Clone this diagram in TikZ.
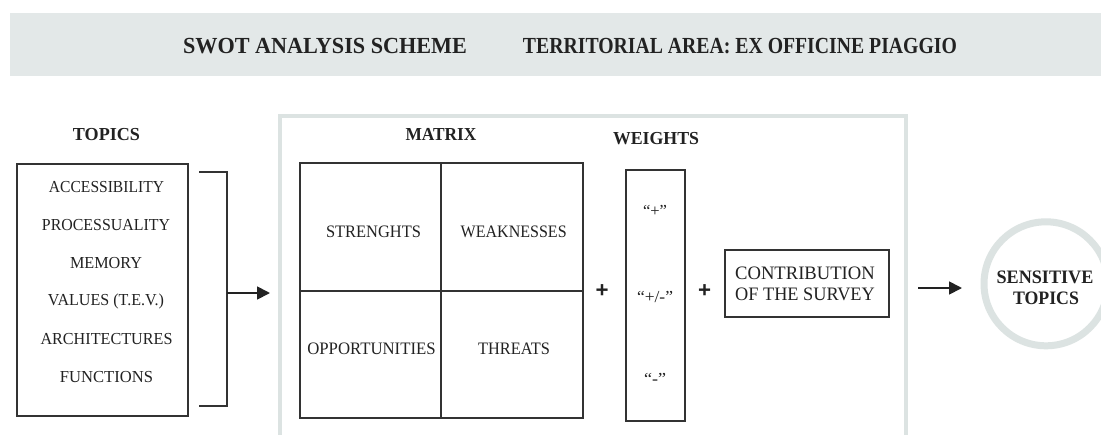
\documentclass[tikz,border=0pt]{standalone}
\usepackage{fontspec}
\setmainfont{Liberation Serif}
\newfontfamily\plusfont{Liberation Sans}
\usepackage{graphicx}
\usetikzlibrary{arrows.meta}
\definecolor{band}{HTML}{E3E8E8}
\definecolor{panelc}{HTML}{DCE3E2}
\definecolor{ink}{HTML}{222222}
\definecolor{linec}{HTML}{333333}
\newcommand\fw[2]{\resizebox{#1pt}{\height}{#2}}
\begin{document}
\begin{tikzpicture}[x=1pt,y=-1pt,
  txt/.style={inner sep=0pt, anchor=base, text=ink},
  ctxt/.style={inner sep=0pt, anchor=center, text=ink},
  tfont/.style={font=\bfseries\fontsize{23}{23}\selectfont},
  headf/.style={font=\bfseries\fontsize{18.3}{18.3}\selectfont},
  itemf/.style={font=\fontsize{16.8}{16.8}\selectfont},
  cellf/.style={font=\fontsize{17.5}{17.5}\selectfont},
  bigf/.style={font=\fontsize{19}{19}\selectfont},
  boxst/.style={draw=linec, line width=1.3pt, inner sep=0pt, fill=none},
  brk/.style={draw=linec, line width=1.8pt},
  arr/.style={draw=ink, line width=1.8pt, -{Triangle[length=13pt,width=13pt]}},
  plusf/.style={font=\plusfont\bfseries\fontsize{22}{22}\selectfont}
]
\useasboundingbox (0,0) rectangle (1101,434);
\clip (0,0) rectangle (1101,434);
\fill[white] (0,0) rectangle (1101,434);

% header band
\fill[band] (10,13) rectangle (1101,76);
\node[txt, tfont] (title1) at (325,53) {\fw{284}{SWOT ANALYSIS SCHEME}};
\node[txt, tfont] (title2) at (740,53) {\fw{434}{TERRITORIAL AREA: EX OFFICINE PIAGGIO}};

% central panel
\draw[panelc, line width=3.2pt] (280,440) -- (280,116) -- (906,116) -- (906,440);

% topics
\node[txt, headf] (topicsl) at (106.5,140.5) {\fw{67}{TOPICS}};
\node[boxst, minimum width=171pt, minimum height=252pt] (topics) at (102.5,290) {};
\node[txt, itemf] (t1) at (106.5,192.5) {\fw{115}{ACCESSIBILITY}};
\node[txt, itemf] (t2) at (106,230.5) {\fw{128}{PROCESSUALITY}};
\node[txt, itemf] (t3) at (106,268.5) {\fw{72}{MEMORY}};
\node[txt, itemf] (t4) at (106,305.5) {\fw{116}{VALUES (T.E.V.)}};
\node[txt, itemf] (t5) at (106.5,344.5) {\fw{132}{ARCHITECTURES}};
\node[txt, itemf] (t6) at (106.5,382.5) {\fw{93}{FUNCTIONS}};

% bracket and arrow
\coordinate (b1) at (199,172);
\coordinate (b2) at (227,172);
\coordinate (b3) at (227,406);
\coordinate (b4) at (199,406);
\coordinate (bm) at (227,293);
\coordinate (a1) at (270,293);
\draw[brk] (b1) -- (b2) -- (b3) -- (b4);
\draw[arr] (bm) -- (a1);

% matrix
\node[txt, headf] (matrixl) at (441,140.7) {\fw{71}{MATRIX}};
\node[boxst, minimum width=283pt, minimum height=255pt] (matrix) at (441.5,290.5) {};
\coordinate (mv1) at (441,163);
\coordinate (mv2) at (441,418);
\coordinate (mh1) at (300,291);
\coordinate (mh2) at (583,291);
\draw[linec, line width=1.3pt] (mv1) -- (mv2);
\draw[linec, line width=1.3pt] (mh1) -- (mh2);
\node[txt, cellf] (s) at (373.5,237.5) {\fw{95}{STRENGHTS}};
\node[txt, cellf] (w) at (513.7,237.5) {\fw{106}{WEAKNESSES}};
\node[txt, cellf] (o) at (371.5,354.5) {\fw{128.4}{OPPORTUNITIES}};
\node[txt, cellf] (th) at (514,354.5) {\fw{71.7}{THREATS}};

% plus 1
\node[ctxt, plusf] (p1) at (602,291) {\fw{13}{+}};

% weights
\node[txt, headf] (weightsl) at (656,144.3) {\fw{86}{WEIGHTS}};
\node[boxst, minimum width=59pt, minimum height=251pt] (weights) at (655.5,295.5) {};
\node[ctxt, itemf] (w1) at (655,210.5) {\fw{24}{“+”}};
\node[ctxt, itemf] (w2) at (655,297) {\fw{36}{“+/-”}};
\node[ctxt, itemf] (w3) at (655,379) {\fw{22}{“-”}};

% plus 2
\node[ctxt, plusf] (p2) at (704.5,291) {\fw{13}{+}};

% contribution
\node[boxst, minimum width=164pt, minimum height=67pt] (contrib) at (807,283.5) {};
\node[txt, bigf] (c1) at (805,279.3) {\fw{139.7}{CONTRIBUTION}};
\node[txt, bigf] (c2) at (805,300.7) {\fw{139.7}{OF THE SURVEY}};

% arrow to result
\coordinate (a2s) at (918,288);
\coordinate (a2e) at (962,288);
\draw[arr] (a2s) -- (a2e);

% sensitive topics circle
\node[draw=panelc, line width=7pt, circle, minimum size=124pt, inner sep=0pt] (sens) at (1046,283.8) {};
\node[txt, font=\bfseries\fontsize{19}{19}\selectfont] (st1) at (1045,283.3) {\fw{96.7}{SENSITIVE}};
\node[txt, font=\bfseries\fontsize{19}{19}\selectfont] (st2) at (1046,304) {\fw{66}{TOPICS}};
\end{tikzpicture}
\end{document}
